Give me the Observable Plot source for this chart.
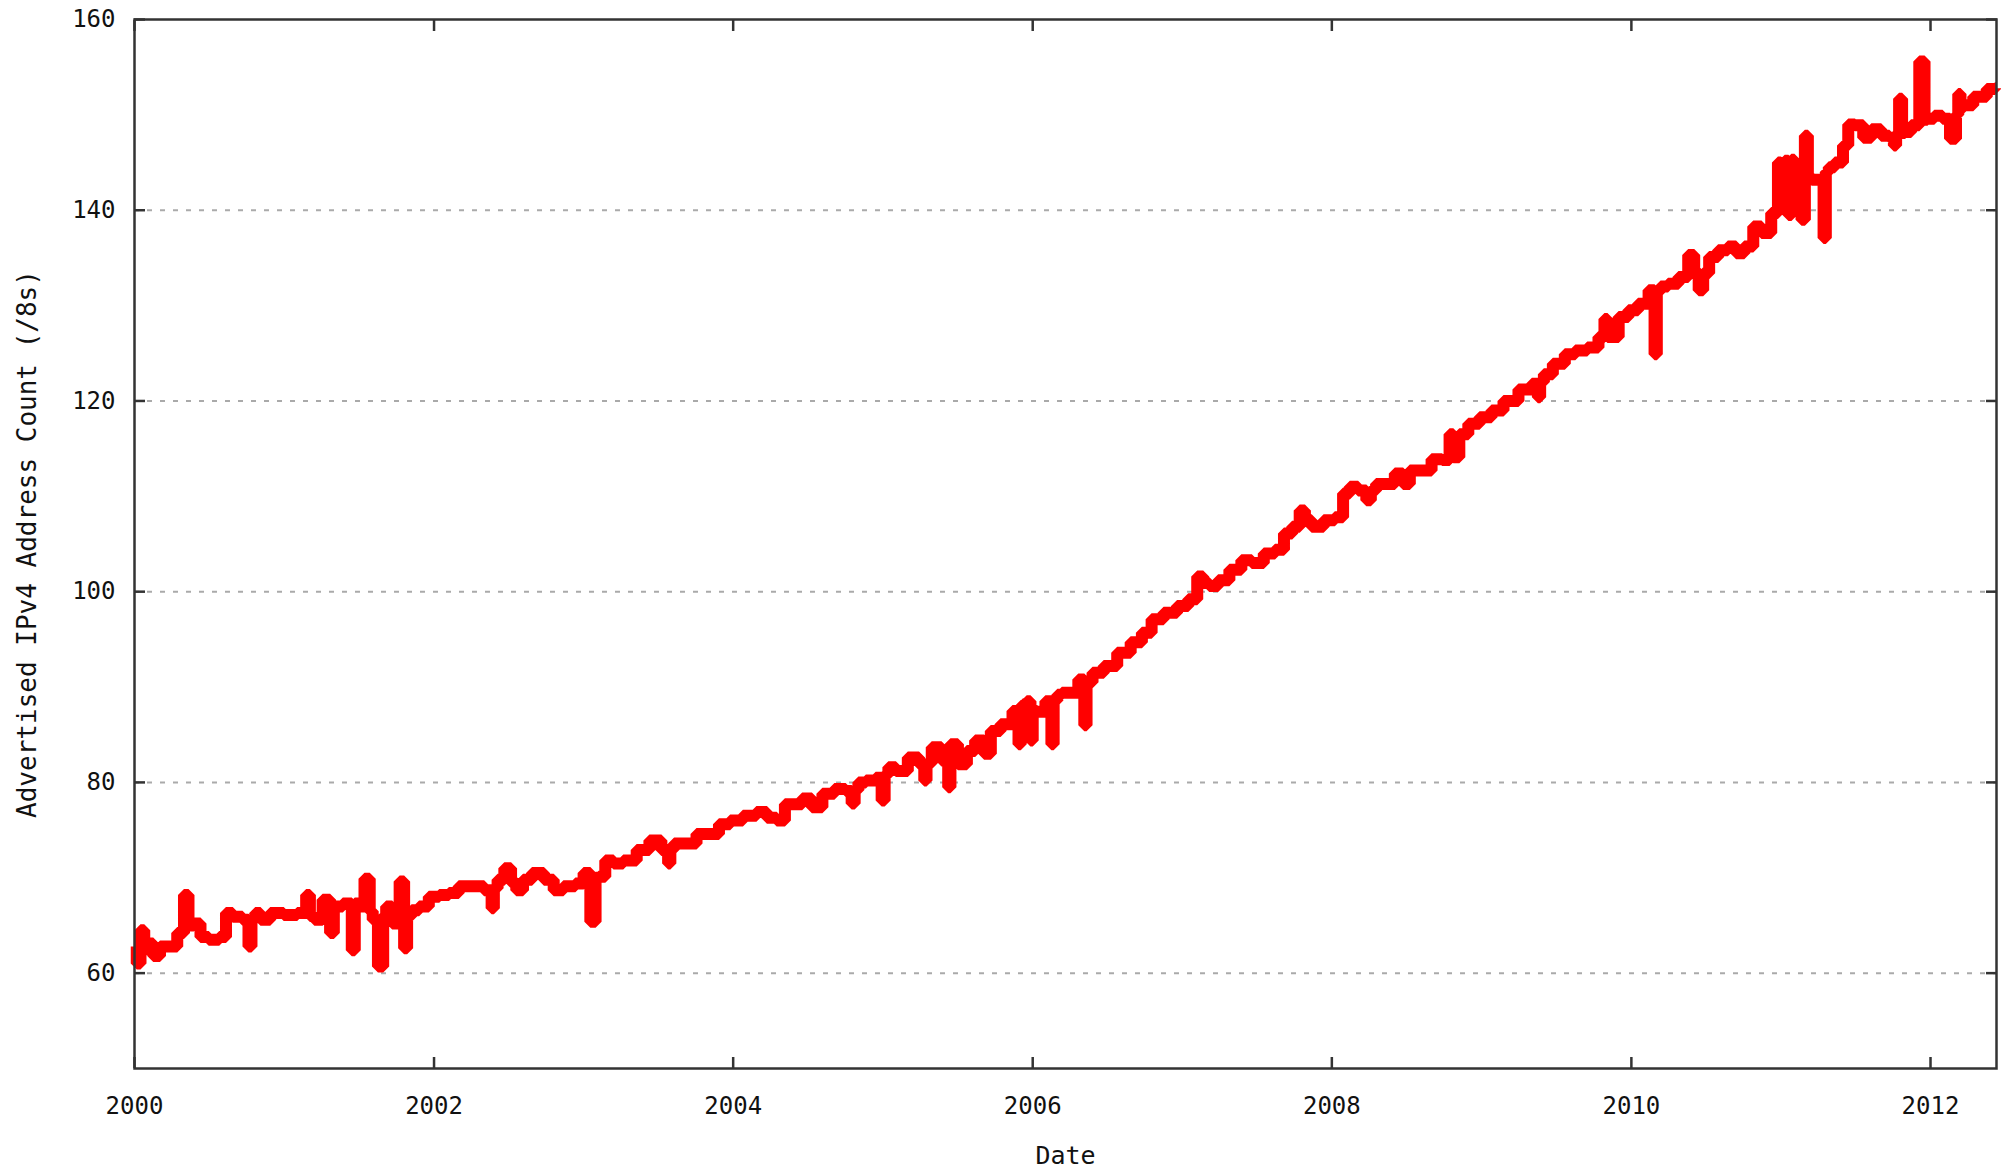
<!DOCTYPE html>
<html>
<head>
<meta charset="utf-8">
<script src="https://cdn.jsdelivr.net/npm/d3@7"></script>
<script src="https://cdn.jsdelivr.net/npm/@observablehq/plot@0.6"></script>
<style>
  html, body { margin: 0; padding: 0; background: #fff; }
  #chart svg { display: block; }
</style>
</head>
<body>
<div id="chart"></div>
<script>
// Decimal-year dates and advertised /8 counts
const years = [
  2000.00, 2000.03, 2000.05, 2000.08, 2000.11, 2000.14, 2000.20, 2000.26, 2000.31, 2000.35,
  2000.37, 2000.42, 2000.46, 2000.53, 2000.60, 2000.62, 2000.69, 2000.75, 2000.77, 2000.79,
  2000.82, 2000.86, 2000.95, 2001.04, 2001.13, 2001.16, 2001.18, 2001.22, 2001.29, 2001.32,
  2001.34, 2001.44, 2001.46, 2001.48, 2001.51, 2001.56, 2001.58, 2001.60, 2001.65, 2001.67,
  2001.69, 2001.75, 2001.79, 2001.81, 2001.83, 2001.87, 2001.93, 2002.00, 2002.07, 2002.13,
  2002.20, 2002.29, 2002.38, 2002.39, 2002.41, 2002.44, 2002.50, 2002.53, 2002.57, 2002.62,
  2002.69, 2002.78, 2002.82, 2002.91, 2002.98, 2003.02, 2003.07, 2003.09, 2003.11, 2003.18,
  2003.22, 2003.31, 2003.40, 2003.48, 2003.56, 2003.57, 2003.59, 2003.62, 2003.71, 2003.80,
  2003.87, 2003.94, 2004.02, 2004.11, 2004.20, 2004.25, 2004.33, 2004.36, 2004.43, 2004.49,
  2004.56, 2004.63, 2004.72, 2004.78, 2004.80, 2004.82, 2004.85, 2004.92, 2004.98, 2005.00,
  2005.02, 2005.05, 2005.12, 2005.21, 2005.27, 2005.28, 2005.30, 2005.35, 2005.43, 2005.44,
  2005.46, 2005.54, 2005.58, 2005.65, 2005.70, 2005.74, 2005.83, 2005.90, 2005.91, 2005.93,
  2005.94, 2005.98, 2005.99, 2006.01, 2006.05, 2006.12, 2006.13, 2006.15, 2006.18, 2006.21,
  2006.27, 2006.34, 2006.35, 2006.37, 2006.43, 2006.52, 2006.61, 2006.70, 2006.76, 2006.83,
  2006.92, 2007.01, 2007.07, 2007.13, 2007.15, 2007.21, 2007.27, 2007.36, 2007.43, 2007.50,
  2007.59, 2007.65, 2007.71, 2007.76, 2007.81, 2007.83, 2007.90, 2007.99, 2008.05, 2008.10,
  2008.14, 2008.21, 2008.25, 2008.27, 2008.32, 2008.39, 2008.45, 2008.50, 2008.54, 2008.63,
  2008.70, 2008.77, 2008.80, 2008.82, 2008.88, 2008.94, 2009.03, 2009.10, 2009.19, 2009.30,
  2009.37, 2009.38, 2009.40, 2009.43, 2009.52, 2009.59, 2009.66, 2009.75, 2009.81, 2009.83,
  2009.85, 2009.88, 2009.95, 2010.01, 2010.08, 2010.15, 2010.16, 2010.18, 2010.21, 2010.28,
  2010.35, 2010.41, 2010.43, 2010.47, 2010.49, 2010.55, 2010.61, 2010.68, 2010.72, 2010.79,
  2010.84, 2010.90, 2010.97, 2010.99, 2011.01, 2011.04, 2011.06, 2011.08, 2011.10, 2011.125,
  2011.15, 2011.17, 2011.19, 2011.22, 2011.28, 2011.29, 2011.31, 2011.33, 2011.39, 2011.44,
  2011.46, 2011.53, 2011.57, 2011.64, 2011.70, 2011.75, 2011.76, 2011.78, 2011.80, 2011.82,
  2011.84, 2011.90, 2011.95, 2011.97, 2011.99, 2012.06, 2012.10, 2012.16, 2012.18, 2012.19,
  2012.21, 2012.24, 2012.33, 2012.42, 2012.44
];
const counts = [
  62.8, 61.0, 64.5, 62.5, 63.1, 61.8, 62.8, 62.8, 64.2, 68.2,
  65.0, 65.2, 63.8, 63.5, 63.8, 66.3, 65.9, 65.6, 62.8, 65.6,
  66.3, 65.6, 66.3, 66.1, 66.3, 68.2, 66.0, 65.6, 67.7, 64.2,
  67.0, 67.3, 62.4, 67.3, 67.0, 69.9, 66.5, 65.6, 60.7, 66.0,
  67.0, 65.2, 69.6, 62.6, 66.0, 66.6, 67.0, 68.0, 68.2, 68.4,
  69.1, 69.1, 68.7, 66.8, 68.9, 69.8, 71.0, 69.5, 68.7, 69.8,
  70.5, 69.8, 68.7, 69.1, 69.4, 70.5, 65.4, 70.0, 70.1, 71.8,
  71.5, 71.8, 72.9, 73.9, 72.9, 71.5, 73.0, 73.6, 73.6, 74.6,
  74.6, 75.6, 76.0, 76.5, 76.9, 76.3, 76.0, 77.7, 77.7, 78.3,
  77.4, 78.8, 79.3, 79.1, 77.8, 79.2, 80.0, 80.2, 80.5, 78.1,
  80.8, 81.6, 81.2, 82.6, 81.9, 80.2, 82.0, 83.7, 82.3, 79.5,
  84.0, 81.9, 83.3, 84.4, 83.0, 85.4, 86.1, 87.5, 84.0, 88.0,
  88.2, 88.5, 84.4, 87.5, 87.4, 88.5, 84.0, 88.6, 89.2, 89.4,
  89.4, 90.8, 86.0, 90.5, 91.5, 92.2, 93.6, 94.7, 95.7, 97.1,
  97.8, 98.5, 99.2, 101.6, 100.9, 100.6, 101.2, 102.3, 103.3, 103.0,
  104.0, 104.4, 106.1, 106.8, 108.5, 107.5, 106.8, 107.5, 107.8, 110.3,
  111.0, 110.6, 109.6, 110.6, 111.3, 111.3, 112.4, 111.3, 112.7, 112.7,
  113.9, 113.8, 116.5, 114.1, 116.5, 117.6, 118.3, 119.0, 120.0, 121.2,
  121.8, 120.4, 122.0, 122.8, 123.9, 124.9, 125.3, 125.6, 126.7, 128.6,
  126.7, 126.7, 128.8, 129.5, 130.2, 131.6, 124.9, 131.5, 132.0, 132.3,
  133.0, 135.3, 133.5, 131.6, 133.4, 135.1, 135.8, 136.2, 135.5, 136.2,
  138.3, 137.6, 139.7, 145.0, 140.5, 145.2, 139.5, 145.3, 140.0, 142.2,
  139.0, 147.8, 143.5, 143.2, 143.2, 137.1, 144.0, 144.5, 145.0, 146.8,
  149.0, 148.9, 147.6, 148.5, 147.8, 147.6, 146.8, 148.0, 151.7, 148.1,
  148.2, 148.9, 155.6, 149.5, 149.6, 149.9, 149.6, 147.5, 150.0, 152.2,
  150.8, 151.0, 151.9, 152.7, 152.8
];
const yTicks = [60, 80, 100, 120, 140, 160];
const xTickYears = [2000, 2002, 2004, 2006, 2008, 2010, 2012];
const xDomainYears = [2000, 2012.44];
const yDomain = [50, 160];
const yLabel = "Advertised IPv4 Address Count (/8s)";
const xLabel = "Date";

function decYear(y) {
  const yr = Math.floor(y);
  const a = Date.UTC(yr, 0, 1), b = Date.UTC(yr + 1, 0, 1);
  return new Date(a + (y - yr) * (b - a));
}

const data = years.map((y, i) => ({date: decYear(y), value: counts[i]}));
const xTicks = xTickYears.map(y => decYear(y));
const fmtYear = d3.utcFormat("%Y");
const axisColor = "#333";

const chart = Plot.plot({
  width: 2005,
  height: 1168,
  marginLeft: 134,
  marginRight: 9,
  marginTop: 19,
  marginBottom: 100,
  style: {fontFamily: "'DejaVu Sans Mono', monospace", fontSize: "24px", color: "#111", background: "#fff"},
  x: {type: "utc", domain: xDomainYears.map(decYear)},
  y: {domain: yDomain},
  marks: [
    Plot.ruleY(yTicks.slice(0, -1), {stroke: "#aaa", strokeWidth: 2, strokeDasharray: "5,8"}),
    Plot.line(data, {x: "date", y: "value", stroke: "#ff0000", strokeWidth: 12, curve: "step", strokeLinejoin: "miter", strokeLinecap: "butt"}),
    Plot.frame({stroke: axisColor, strokeWidth: 2.5}),
    Plot.axisY({anchor: "left", ticks: yTicks, tickSize: -11, tickPadding: 30, stroke: axisColor, strokeWidth: 2.5, label: null}),
    Plot.axisY({anchor: "right", ticks: yTicks, tickSize: -11, tickFormat: () => "", stroke: axisColor, strokeWidth: 2.5, label: null}),
    Plot.axisX({anchor: "bottom", ticks: xTicks, tickSize: -11, tickPadding: 39, tickFormat: fmtYear, stroke: axisColor, strokeWidth: 2.5, label: null}),
    Plot.axisX({anchor: "top", ticks: xTicks, tickSize: -11, tickFormat: () => "", stroke: axisColor, strokeWidth: 2.5, label: null}),
    Plot.text([yLabel], {frameAnchor: "left", textAnchor: "middle", dx: -107, rotate: -90, text: d => d, fill: "#111", fontSize: 26}),
    Plot.text([xLabel], {frameAnchor: "bottom", textAnchor: "middle", dy: 95, text: d => d, fill: "#111", fontSize: 25})
  ]
});
document.getElementById("chart").appendChild(chart);
</script>
</body>
</html>
